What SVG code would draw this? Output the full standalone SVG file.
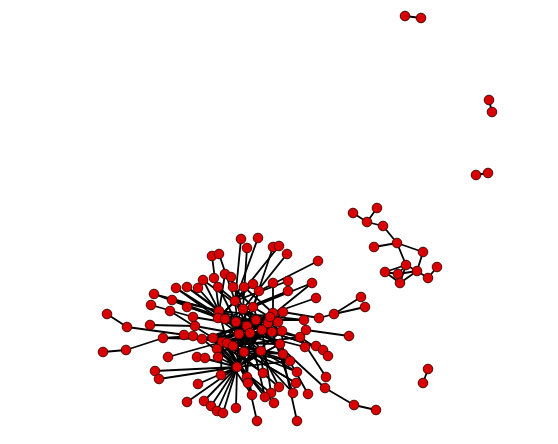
<svg xmlns="http://www.w3.org/2000/svg" width="558" height="444" viewBox="0 0 558 444">
<style>
.e line{stroke:#000;stroke-width:1.8;stroke-linecap:round}
.n circle{fill:#d80000;stroke:#4a0808;stroke-width:1;r:4.8}
</style>
<rect width="558" height="444" fill="#fff"/>
<g id="connectors" class="e">
<line x1="405" y1="16" x2="421" y2="18"/>
<line x1="489" y1="100" x2="492" y2="112"/>
<line x1="476" y1="175" x2="488" y2="173"/>
<line x1="428" y1="369" x2="423" y2="383"/>
<line x1="353" y1="213" x2="367" y2="222"/>
<line x1="377" y1="208" x2="367" y2="222"/>
<line x1="367" y1="222" x2="383" y2="226"/>
<line x1="383" y1="226" x2="397" y2="243"/>
<line x1="374" y1="247" x2="397" y2="243"/>
<line x1="397" y1="243" x2="423" y2="252"/>
<line x1="397" y1="243" x2="406" y2="265"/>
<line x1="423" y1="252" x2="417" y2="271"/>
<line x1="406" y1="265" x2="417" y2="271"/>
<line x1="406" y1="265" x2="385" y2="272"/>
<line x1="406" y1="265" x2="398" y2="274"/>
<line x1="406" y1="265" x2="400" y2="283"/>
<line x1="417" y1="271" x2="398" y2="274"/>
<line x1="417" y1="271" x2="400" y2="283"/>
<line x1="385" y1="272" x2="398" y2="274"/>
<line x1="385" y1="272" x2="400" y2="283"/>
<line x1="417" y1="271" x2="428" y2="278"/>
<line x1="428" y1="278" x2="437" y2="267"/>
<line x1="241" y1="239" x2="235" y2="301"/>
<line x1="247" y1="248" x2="243" y2="309"/>
<line x1="258" y1="238" x2="235" y2="301"/>
<line x1="273" y1="247" x2="253" y2="307"/>
<line x1="279" y1="246" x2="235" y2="301"/>
<line x1="287" y1="254" x2="243" y2="309"/>
<line x1="212" y1="256" x2="219" y2="311"/>
<line x1="219" y1="254" x2="235" y2="301"/>
<line x1="318" y1="261" x2="259" y2="291"/>
<line x1="259" y1="291" x2="247" y2="326"/>
<line x1="225" y1="274" x2="218" y2="318"/>
<line x1="231" y1="277" x2="243" y2="309"/>
<line x1="203" y1="280" x2="219" y2="311"/>
<line x1="214" y1="278" x2="236" y2="322"/>
<line x1="218" y1="287" x2="235" y2="301"/>
<line x1="233" y1="287" x2="253" y2="307"/>
<line x1="244" y1="287" x2="273" y2="313"/>
<line x1="253" y1="284" x2="218" y2="318"/>
<line x1="273" y1="283" x2="273" y2="313"/>
<line x1="288" y1="281" x2="235" y2="301"/>
<line x1="288" y1="291" x2="243" y2="309"/>
<line x1="312" y1="283" x2="253" y2="307"/>
<line x1="316" y1="298" x2="273" y2="313"/>
<line x1="361" y1="297" x2="334" y2="314"/>
<line x1="365" y1="307" x2="334" y2="314"/>
<line x1="334" y1="314" x2="319" y2="318"/>
<line x1="319" y1="318" x2="283" y2="312"/>
<line x1="304" y1="320" x2="256" y2="320"/>
<line x1="187" y1="287" x2="236" y2="322"/>
<line x1="198" y1="288" x2="225" y2="319"/>
<line x1="176" y1="288" x2="218" y2="318"/>
<line x1="154" y1="294" x2="219" y2="311"/>
<line x1="172" y1="300" x2="236" y2="322"/>
<line x1="151" y1="305" x2="193" y2="317"/>
<line x1="170" y1="311" x2="213" y2="338"/>
<line x1="187" y1="307" x2="236" y2="322"/>
<line x1="107" y1="314" x2="127" y2="327"/>
<line x1="127" y1="327" x2="193" y2="336"/>
<line x1="150" y1="325" x2="195" y2="326"/>
<line x1="193" y1="317" x2="247" y2="326"/>
<line x1="163" y1="338" x2="193" y2="336"/>
<line x1="103" y1="352" x2="126" y2="350"/>
<line x1="126" y1="350" x2="163" y2="338"/>
<line x1="168" y1="357" x2="222" y2="342"/>
<line x1="184" y1="335" x2="222" y2="342"/>
<line x1="195" y1="326" x2="239" y2="334"/>
<line x1="155" y1="371" x2="237" y2="367"/>
<line x1="159" y1="379" x2="237" y2="367"/>
<line x1="198" y1="384" x2="237" y2="367"/>
<line x1="187" y1="402" x2="237" y2="367"/>
<line x1="204" y1="401" x2="237" y2="367"/>
<line x1="211" y1="406" x2="237" y2="367"/>
<line x1="217" y1="411" x2="237" y2="367"/>
<line x1="223" y1="413" x2="237" y2="367"/>
<line x1="236" y1="408" x2="237" y2="367"/>
<line x1="221" y1="375" x2="237" y2="367"/>
<line x1="257" y1="421" x2="247" y2="377"/>
<line x1="247" y1="377" x2="244" y2="352"/>
<line x1="297" y1="421" x2="280" y2="344"/>
<line x1="354" y1="405" x2="376" y2="410"/>
<line x1="354" y1="405" x2="325" y2="388"/>
<line x1="325" y1="388" x2="262" y2="330"/>
<line x1="326" y1="377" x2="300" y2="337"/>
<line x1="349" y1="336" x2="306" y2="330"/>
<line x1="305" y1="347" x2="250" y2="333"/>
<line x1="316" y1="346" x2="262" y2="330"/>
<line x1="323" y1="350" x2="272" y2="332"/>
<line x1="328" y1="356" x2="300" y2="337"/>
<line x1="297" y1="372" x2="261" y2="351"/>
<line x1="296" y1="383" x2="244" y2="352"/>
<line x1="279" y1="387" x2="261" y2="351"/>
<line x1="308" y1="394" x2="280" y2="344"/>
<line x1="293" y1="393" x2="272" y2="332"/>
<line x1="271" y1="393" x2="262" y2="330"/>
<line x1="265" y1="397" x2="250" y2="333"/>
<line x1="274" y1="403" x2="213" y2="338"/>
<line x1="252" y1="395" x2="239" y2="334"/>
<line x1="247" y1="377" x2="250" y2="333"/>
<line x1="248" y1="383" x2="233" y2="346"/>
<line x1="263" y1="373" x2="261" y2="351"/>
<line x1="221" y1="375" x2="222" y2="342"/>
<line x1="197" y1="357" x2="237" y2="367"/>
<line x1="205" y1="358" x2="237" y2="367"/>
<line x1="218" y1="357" x2="237" y2="367"/>
<line x1="217" y1="349" x2="237" y2="367"/>
<line x1="221" y1="375" x2="280" y2="344"/>
<line x1="247" y1="377" x2="222" y2="342"/>
<line x1="248" y1="383" x2="227" y2="343"/>
<line x1="263" y1="373" x2="213" y2="338"/>
<line x1="297" y1="372" x2="222" y2="342"/>
<line x1="296" y1="383" x2="233" y2="346"/>
<line x1="279" y1="387" x2="227" y2="343"/>
<line x1="293" y1="393" x2="239" y2="334"/>
<line x1="271" y1="393" x2="202" y2="339"/>
<line x1="265" y1="397" x2="222" y2="342"/>
<line x1="252" y1="395" x2="213" y2="338"/>
<line x1="235" y1="301" x2="218" y2="318"/>
<line x1="235" y1="301" x2="247" y2="326"/>
<line x1="235" y1="301" x2="239" y2="334"/>
<line x1="235" y1="301" x2="256" y2="320"/>
<line x1="243" y1="309" x2="236" y2="322"/>
<line x1="243" y1="309" x2="250" y2="333"/>
<line x1="243" y1="309" x2="268" y2="323"/>
<line x1="253" y1="307" x2="225" y2="319"/>
<line x1="253" y1="307" x2="262" y2="330"/>
<line x1="253" y1="307" x2="278" y2="322"/>
<line x1="219" y1="311" x2="247" y2="326"/>
<line x1="219" y1="311" x2="227" y2="343"/>
<line x1="219" y1="311" x2="239" y2="334"/>
<line x1="273" y1="313" x2="236" y2="322"/>
<line x1="273" y1="313" x2="233" y2="346"/>
<line x1="273" y1="313" x2="213" y2="338"/>
<line x1="283" y1="312" x2="247" y2="326"/>
<line x1="283" y1="312" x2="239" y2="334"/>
<line x1="283" y1="312" x2="244" y2="352"/>
<line x1="218" y1="318" x2="250" y2="333"/>
<line x1="218" y1="318" x2="261" y2="351"/>
<line x1="225" y1="319" x2="272" y2="332"/>
<line x1="225" y1="319" x2="280" y2="344"/>
<line x1="236" y1="322" x2="262" y2="330"/>
<line x1="236" y1="322" x2="282" y2="331"/>
<line x1="247" y1="326" x2="202" y2="339"/>
<line x1="247" y1="326" x2="300" y2="337"/>
<line x1="256" y1="320" x2="222" y2="342"/>
<line x1="256" y1="320" x2="213" y2="338"/>
<line x1="268" y1="323" x2="227" y2="343"/>
<line x1="268" y1="323" x2="244" y2="352"/>
<line x1="278" y1="322" x2="233" y2="346"/>
<line x1="278" y1="322" x2="217" y2="349"/>
<line x1="270" y1="317" x2="202" y2="339"/>
<line x1="270" y1="317" x2="222" y2="342"/>
<line x1="202" y1="339" x2="239" y2="334"/>
<line x1="213" y1="338" x2="250" y2="333"/>
<line x1="222" y1="342" x2="262" y2="330"/>
<line x1="227" y1="343" x2="272" y2="332"/>
<line x1="233" y1="346" x2="282" y2="331"/>
<line x1="239" y1="334" x2="280" y2="344"/>
<line x1="250" y1="333" x2="261" y2="351"/>
<line x1="262" y1="330" x2="244" y2="352"/>
<line x1="272" y1="332" x2="217" y2="349"/>
<line x1="282" y1="331" x2="283" y2="354"/>
<line x1="300" y1="337" x2="233" y2="346"/>
<line x1="280" y1="344" x2="227" y2="343"/>
<line x1="261" y1="351" x2="222" y2="342"/>
<line x1="244" y1="352" x2="290" y2="361"/>
<line x1="217" y1="349" x2="283" y2="354"/>
<line x1="283" y1="354" x2="202" y2="339"/>
<line x1="290" y1="361" x2="213" y2="338"/>
<line x1="219" y1="311" x2="300" y2="337"/>
<line x1="243" y1="309" x2="282" y2="331"/>
<line x1="235" y1="301" x2="283" y2="354"/>
<line x1="253" y1="307" x2="217" y2="349"/>
<line x1="218" y1="318" x2="268" y2="323"/>
<line x1="225" y1="319" x2="256" y2="320"/>
<line x1="236" y1="322" x2="270" y2="317"/>
<line x1="227" y1="343" x2="250" y2="333"/>
<line x1="233" y1="346" x2="262" y2="330"/>
<line x1="222" y1="342" x2="272" y2="332"/>
<line x1="237" y1="367" x2="262" y2="330"/>
<line x1="237" y1="367" x2="239" y2="334"/>
<line x1="237" y1="367" x2="250" y2="333"/>
<line x1="237" y1="367" x2="282" y2="331"/>
<line x1="237" y1="367" x2="280" y2="344"/>
<line x1="237" y1="367" x2="227" y2="343"/>
<line x1="237" y1="367" x2="261" y2="351"/>
<line x1="237" y1="367" x2="244" y2="352"/>
<line x1="237" y1="367" x2="247" y2="326"/>
<line x1="237" y1="367" x2="213" y2="338"/>
<line x1="237" y1="367" x2="290" y2="361"/>
<line x1="219" y1="311" x2="304" y2="320"/>
<line x1="203" y1="280" x2="243" y2="309"/>
<line x1="187" y1="287" x2="219" y2="311"/>
<line x1="176" y1="288" x2="225" y2="319"/>
<line x1="154" y1="294" x2="218" y2="318"/>
<line x1="172" y1="300" x2="219" y2="311"/>
<line x1="163" y1="338" x2="202" y2="339"/>
<line x1="288" y1="291" x2="253" y2="307"/>
<line x1="312" y1="283" x2="270" y2="317"/>
</g>
<g class="n">
<g id="s1a"><circle cx="405" cy="16"/></g>
<g id="s1b"><circle cx="421" cy="18"/></g>
<g id="s2a"><circle cx="489" cy="100"/></g>
<g id="s2b"><circle cx="492" cy="112"/></g>
<g id="s3a"><circle cx="476" cy="175"/></g>
<g id="s3b"><circle cx="488" cy="173"/></g>
<g id="s4a"><circle cx="428" cy="369"/></g>
<g id="s4b"><circle cx="423" cy="383"/></g>
<g id="r1"><circle cx="353" cy="213"/></g>
<g id="r2"><circle cx="377" cy="208"/></g>
<g id="r3"><circle cx="367" cy="222"/></g>
<g id="r4"><circle cx="383" cy="226"/></g>
<g id="r5"><circle cx="397" cy="243"/></g>
<g id="r6"><circle cx="374" cy="247"/></g>
<g id="r7"><circle cx="423" cy="252"/></g>
<g id="r8"><circle cx="406" cy="265"/></g>
<g id="r9"><circle cx="417" cy="271"/></g>
<g id="r10"><circle cx="385" cy="272"/></g>
<g id="r11"><circle cx="398" cy="274"/></g>
<g id="r12"><circle cx="400" cy="283"/></g>
<g id="r13"><circle cx="428" cy="278"/></g>
<g id="r14"><circle cx="437" cy="267"/></g>
<g id="a1"><circle cx="241" cy="239"/></g>
<g id="a2"><circle cx="258" cy="238"/></g>
<g id="a3"><circle cx="247" cy="248"/></g>
<g id="a4"><circle cx="273" cy="247"/></g>
<g id="a5"><circle cx="279" cy="246"/></g>
<g id="a6"><circle cx="287" cy="254"/></g>
<g id="a7"><circle cx="212" cy="256"/></g>
<g id="a8"><circle cx="219" cy="254"/></g>
<g id="a9"><circle cx="318" cy="261"/></g>
<g id="a10"><circle cx="225" cy="274"/></g>
<g id="a11"><circle cx="231" cy="277"/></g>
<g id="a12"><circle cx="203" cy="280"/></g>
<g id="a13"><circle cx="214" cy="278"/></g>
<g id="a14"><circle cx="218" cy="287"/></g>
<g id="a15"><circle cx="233" cy="287"/></g>
<g id="a16"><circle cx="244" cy="287"/></g>
<g id="a17"><circle cx="253" cy="284"/></g>
<g id="a18"><circle cx="259" cy="291"/></g>
<g id="a19"><circle cx="273" cy="283"/></g>
<g id="a20"><circle cx="288" cy="281"/></g>
<g id="a21"><circle cx="288" cy="291"/></g>
<g id="a22"><circle cx="312" cy="283"/></g>
<g id="a23"><circle cx="316" cy="298"/></g>
<g id="a24"><circle cx="361" cy="297"/></g>
<g id="a25"><circle cx="365" cy="307"/></g>
<g id="a26"><circle cx="334" cy="314"/></g>
<g id="a27"><circle cx="319" cy="318"/></g>
<g id="a28"><circle cx="304" cy="320"/></g>
<g id="a29"><circle cx="235" cy="301"/></g>
<g id="a30"><circle cx="243" cy="309"/></g>
<g id="a31"><circle cx="253" cy="307"/></g>
<g id="a32"><circle cx="219" cy="311"/></g>
<g id="a33"><circle cx="273" cy="313"/></g>
<g id="a34"><circle cx="283" cy="312"/></g>
<g id="a35"><circle cx="187" cy="287"/></g>
<g id="a36"><circle cx="198" cy="288"/></g>
<g id="a37"><circle cx="176" cy="288"/></g>
<g id="a38"><circle cx="154" cy="294"/></g>
<g id="a39"><circle cx="172" cy="300"/></g>
<g id="a40"><circle cx="151" cy="305"/></g>
<g id="a41"><circle cx="170" cy="311"/></g>
<g id="a42"><circle cx="187" cy="307"/></g>
<g id="a43"><circle cx="107" cy="314"/></g>
<g id="a44"><circle cx="127" cy="327"/></g>
<g id="a45"><circle cx="150" cy="325"/></g>
<g id="a46"><circle cx="193" cy="317"/></g>
<g id="a47"><circle cx="218" cy="318"/></g>
<g id="a48"><circle cx="225" cy="319"/></g>
<g id="a49"><circle cx="236" cy="322"/></g>
<g id="a50"><circle cx="247" cy="326"/></g>
<g id="a51"><circle cx="256" cy="320"/></g>
<g id="a52"><circle cx="268" cy="323"/></g>
<g id="a53"><circle cx="278" cy="322"/></g>
<g id="a54"><circle cx="270" cy="317"/></g>
<g id="b1"><circle cx="195" cy="326"/></g>
<g id="b2"><circle cx="193" cy="336"/></g>
<g id="b3"><circle cx="202" cy="339"/></g>
<g id="b4"><circle cx="213" cy="338"/></g>
<g id="b5"><circle cx="222" cy="342"/></g>
<g id="b6"><circle cx="227" cy="343"/></g>
<g id="b7"><circle cx="233" cy="346"/></g>
<g id="b8"><circle cx="239" cy="334"/></g>
<g id="b9"><circle cx="250" cy="333"/></g>
<g id="b10"><circle cx="262" cy="330"/></g>
<g id="b11"><circle cx="272" cy="332"/></g>
<g id="b12"><circle cx="282" cy="331"/></g>
<g id="b13"><circle cx="306" cy="330"/></g>
<g id="b14"><circle cx="300" cy="337"/></g>
<g id="b15"><circle cx="280" cy="344"/></g>
<g id="b16"><circle cx="261" cy="351"/></g>
<g id="b17"><circle cx="244" cy="352"/></g>
<g id="b18"><circle cx="217" cy="349"/></g>
<g id="b19"><circle cx="197" cy="357"/></g>
<g id="b20"><circle cx="205" cy="358"/></g>
<g id="b21"><circle cx="218" cy="357"/></g>
<g id="b22"><circle cx="283" cy="354"/></g>
<g id="b23"><circle cx="290" cy="361"/></g>
<g id="b24"><circle cx="305" cy="347"/></g>
<g id="b25"><circle cx="316" cy="346"/></g>
<g id="b26"><circle cx="323" cy="350"/></g>
<g id="b27"><circle cx="328" cy="356"/></g>
<g id="b28"><circle cx="349" cy="336"/></g>
<g id="b29"><circle cx="163" cy="338"/></g>
<g id="b30"><circle cx="103" cy="352"/></g>
<g id="b31"><circle cx="126" cy="350"/></g>
<g id="b32"><circle cx="168" cy="357"/></g>
<g id="b33"><circle cx="184" cy="335"/></g>
<g id="c1"><circle cx="237" cy="367"/></g>
<g id="c2"><circle cx="221" cy="375"/></g>
<g id="c3"><circle cx="247" cy="377"/></g>
<g id="c4"><circle cx="248" cy="383"/></g>
<g id="c5"><circle cx="263" cy="373"/></g>
<g id="c6"><circle cx="297" cy="372"/></g>
<g id="c7"><circle cx="326" cy="377"/></g>
<g id="c8"><circle cx="325" cy="388"/></g>
<g id="c9"><circle cx="296" cy="383"/></g>
<g id="c10"><circle cx="279" cy="387"/></g>
<g id="c11"><circle cx="308" cy="394"/></g>
<g id="c12"><circle cx="293" cy="393"/></g>
<g id="c13"><circle cx="271" cy="393"/></g>
<g id="c14"><circle cx="265" cy="397"/></g>
<g id="c15"><circle cx="274" cy="403"/></g>
<g id="c16"><circle cx="252" cy="395"/></g>
<g id="c17"><circle cx="155" cy="371"/></g>
<g id="c18"><circle cx="159" cy="379"/></g>
<g id="c19"><circle cx="198" cy="384"/></g>
<g id="c20"><circle cx="187" cy="402"/></g>
<g id="c21"><circle cx="204" cy="401"/></g>
<g id="c22"><circle cx="211" cy="406"/></g>
<g id="c23"><circle cx="217" cy="411"/></g>
<g id="c24"><circle cx="223" cy="413"/></g>
<g id="c25"><circle cx="236" cy="408"/></g>
<g id="c26"><circle cx="257" cy="421"/></g>
<g id="c27"><circle cx="297" cy="421"/></g>
<g id="c28"><circle cx="354" cy="405"/></g>
<g id="c29"><circle cx="376" cy="410"/></g>
</g>
</svg>
